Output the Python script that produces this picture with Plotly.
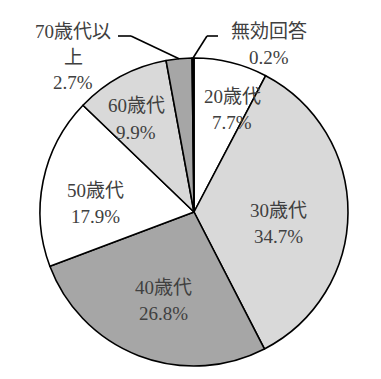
import math
import plotly.graph_objects as go

labels = ["20歳代", "30歳代", "40歳代", "50歳代", "60歳代", "70歳代以上", "無効回答"]
values = [7.7, 34.7, 26.8, 17.9, 9.9, 2.7, 0.2]
colors = ["#ffffff", "#d9d9d9", "#a6a6a6", "#ffffff", "#d9d9d9", "#a6a6a6", "#000000"]

W, H = 381, 379
CX, CY, R = 194, 212, 154
LINE = 26

# label text lines (70歳代以上 wraps after 以)
display = [["20歳代"], ["30歳代"], ["40歳代"], ["50歳代"], ["60歳代"], ["70歳代以", "上"], ["無効回答"]]
# label centre positions in pixels
label_pos = [(232, 109), (278, 223), (163, 300), (95, 203), (136, 119), (73, 57), (269, 44)]

def px(x, y):
    return x / W, 1 - y / H

FONT = "Liberation Serif, Noto Sans CJK JP, serif"

fig = go.Figure(go.Pie(
    labels=labels, values=values, sort=False, direction="clockwise", rotation=0,
    marker=dict(colors=colors, line=dict(color="#000000", width=1.6)),
    textinfo="none", hoverinfo="label+percent", showlegend=False,
    domain=dict(x=[(CX - R) / W, (CX + R) / W], y=[(H - CY - R) / H, (H - CY + R) / H]),
))

annotations = []
for d, v, (x, y) in zip(display, values, label_pos):
    lines = d + [f"{v:.1f}%"]
    n = len(lines)
    for i, t in enumerate(lines):
        ly = y + (i - (n - 1) / 2) * LINE
        ax, ay = px(x, ly)
        annotations.append(dict(
            x=ax, y=ay, xref="paper", yref="paper", showarrow=False,
            text=t, xanchor="center", yanchor="middle",
            font=dict(family=FONT, size=19, color="#404040"), align="center",
        ))

# leader lines for the two small slices
total = sum(values)
cum = 0
mids = []
for v in values:
    mids.append((cum + v / 2) / total * 360)
    cum += v

def edge(angle_deg):
    a = math.radians(angle_deg)
    return CX + R * math.sin(a), CY - R * math.cos(a)

shapes = []
def poly(pts):
    for (x0, y0), (x1, y1) in zip(pts[:-1], pts[1:]):
        a0, b0 = px(x0, y0); a1, b1 = px(x1, y1)
        shapes.append(dict(type="line", xref="paper", yref="paper", x0=a0, y0=b0, x1=a1, y1=b1,
                           line=dict(color="#000000", width=1.6)))

ex, ey = edge(mids[5])
poly([(118, 36), (131, 36), (ex, ey)])
ex, ey = edge(mids[6])
poly([(ex, ey), (207, 36), (218, 36)])

fig.update_layout(
    width=W, height=H, margin=dict(l=0, r=0, t=0, b=0),
    paper_bgcolor="#ffffff", plot_bgcolor="#ffffff",
    annotations=annotations, shapes=shapes,
)

fig.write_html("out.html", config={"displayModeBar": False},
               post_script="document.body.style.margin='0px';")
